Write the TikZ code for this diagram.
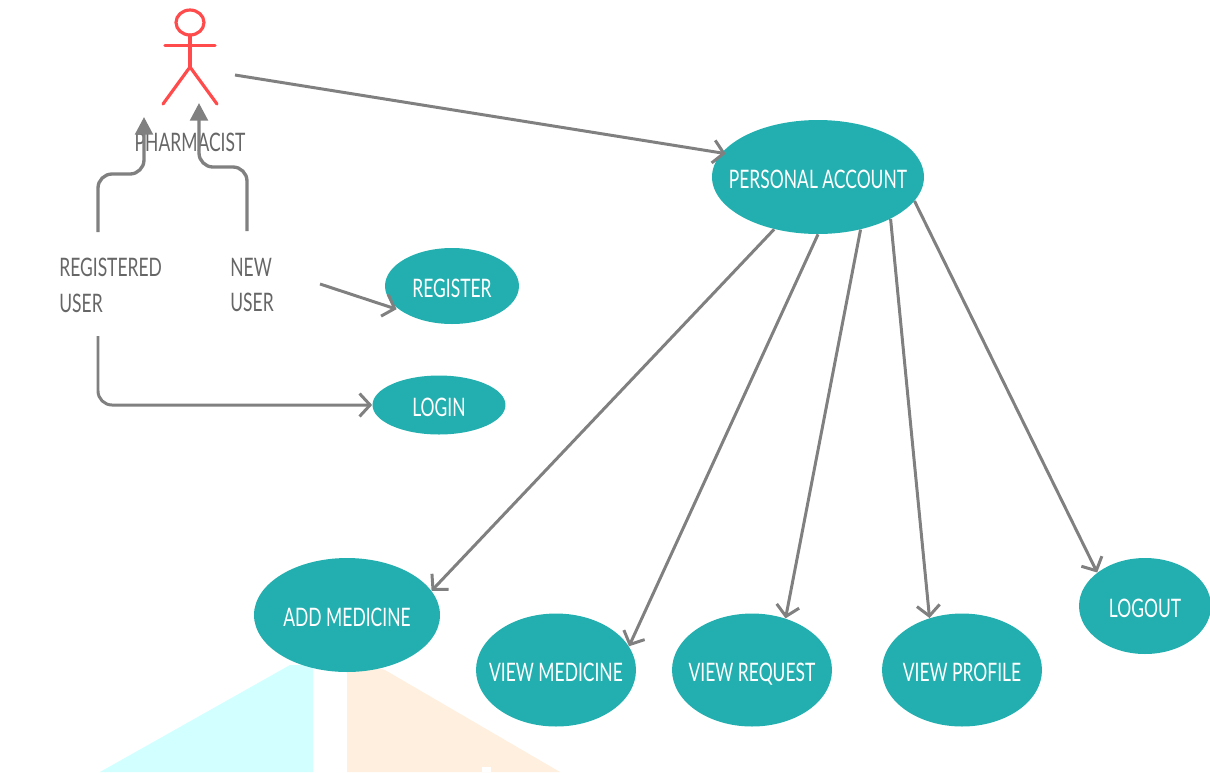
\documentclass[tikz,border=0pt]{standalone}
\usepackage{fontspec}
\usetikzlibrary{arrows.meta}
\usetikzlibrary{shapes.geometric}
\newfontfamily\labelfont[FakeStretch=0.685]{Lato}
\newcommand{\uctext}[1]{\makebox[0pt]{#1}}
\definecolor{usecasefill}{HTML}{23AFAF}
\definecolor{linegray}{HTML}{808080}
\definecolor{textgray}{HTML}{666666}
\definecolor{actorred}{HTML}{FF4B4B}
\definecolor{wedgecyan}{HTML}{D2FFFF}
\definecolor{wedgeorange}{HTML}{FFEFDF}
\tikzset{
  usecase/.style={ellipse, fill=usecasefill, text=white, inner sep=0pt,
    text height=13pt, text depth=0pt,
    font=\labelfont\fontsize{14.5}{20.4}\selectfont},
  actorlabel/.style={text=textgray, inner sep=0pt, align=left,
    font=\labelfont\fontsize{14.5}{20.4}\selectfont},
  openarrow/.style={draw=linegray, line width=1.7pt,
    -{Straight Barb[length=6pt,width=13pt,line width=1.7pt]}},
  filledarrow/.style={draw=linegray, line width=1.9pt, rounded corners=8pt,
    -{Triangle[length=10pt,width=10pt,fill=linegray]}},
  limb/.style={draw=actorred, line width=1.8pt, line cap=round}
}
\begin{document}
\begin{tikzpicture}[x=0.02cm,y=-0.02cm]
\useasboundingbox (0,0) rectangle (1210,772);
% faded shapes behind the lower ellipses
\fill[wedgecyan] (100,772) -- (290,665) -- (313,665) -- (313,772) -- cycle;
\fill[wedgeorange] (347,660) -- (385,670) -- (560,772) -- (347,772) -- cycle;
\fill[white] (482,767) rectangle (491,772);

% actor
\draw[limb] (190,22.5) ellipse (14 and 12.5);
\draw[limb]
     (190,35)
  -- (190,67) coordinate (hips);
\draw[limb] (165,45.5) -- (215,45.5);
\draw[limb] (163,104) -- (hips) -- (217,104);
\node[actorlabel] (pharmacist) at (190,142) {PHARMACIST};

% use cases
\node[usecase, minimum width=4.24cm, minimum height=2.28cm] (account) at (818,177) {\uctext{PERSONAL ACCOUNT}};
\node[usecase, minimum width=2.68cm, minimum height=1.52cm] (register) at (452,286) {\uctext{REGISTER}};
\node[usecase, minimum width=2.66cm, minimum height=1.18cm] (login) at (439,405) {\uctext{LOGIN}};
\node[usecase, minimum width=3.72cm, minimum height=2.28cm] (addmed) at (347,615) {\uctext{ADD MEDICINE}};
\node[usecase, minimum width=3.2cm, minimum height=2.26cm] (viewmed) at (556,670) {\uctext{VIEW MEDICINE}};
\node[usecase, minimum width=3.2cm, minimum height=2.26cm] (viewreq) at (752,670) {\uctext{VIEW REQUEST}};
\node[usecase, minimum width=3.2cm, minimum height=2.26cm] (viewprof) at (962,670) {\uctext{VIEW PROFILE}};
\node[usecase, minimum width=2.64cm, minimum height=1.92cm] (logout) at (1145,606) {\uctext{LOGOUT}};

% user kinds
\node[actorlabel, anchor=west] (registered) at (59,285) {REGISTERED\\USER};
\node[actorlabel, anchor=west] (newuser) at (230,285) {NEW\\USER};

\coordinate (actor-out) at (235,75);
\coordinate (actor-left) at (144,117);
\coordinate (actor-right) at (199,103);
\coordinate (reg-up) at (98,232);
\coordinate (reg-down) at (98,336);
\coordinate (new-up) at (247,231);
\coordinate (new-out) at (320,284);

\draw[filledarrow]
     (reg-up)
  -- ++(0,-58)
  -- ++(46,0)
  -- (actor-left);
\draw[filledarrow]
     (new-up)
  -- ++(0,-64)
  -- ++(-48,0)
  -- (actor-right);
\draw[openarrow, rounded corners=8pt]
     (reg-down)
  -- ++(0,69)
  -- (login.west);
\draw[openarrow, shorten >=2pt] (new-out) -- (register.205);
\draw[openarrow, shorten >=-2.5pt] (actor-out) -- (account.166);
\draw[openarrow] (account.230) -- (addmed.16);
\draw[openarrow] (account.270) -- (viewmed.18);
\draw[openarrow] (account.309) -- (viewreq.57);
\draw[openarrow] (account.330) -- (viewprof.122);
\draw[openarrow] (account.346) -- (logout.145);
\end{tikzpicture}
\end{document}
